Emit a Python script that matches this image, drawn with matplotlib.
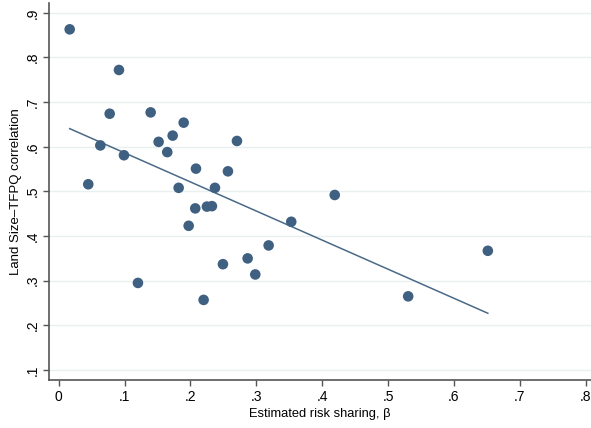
import numpy as np
import matplotlib
matplotlib.use("Agg")
import matplotlib.pyplot as plt

plt.rcParams['font.family'] = ['Liberation Sans', 'DejaVu Sans']

# Data
risk_sharing = [0.0167, 0.0915, 0.0774, 0.1396, 0.1897, 0.1517, 0.1730, 0.2706,
                0.0632, 0.0991, 0.1648, 0.0449, 0.2084, 0.2569, 0.1821, 0.2372,
                0.2073, 0.2250, 0.2326, 0.3530, 0.1973, 0.1203, 0.2200, 0.2493,
                0.2868, 0.2984, 0.3187, 0.5305, 0.6514, 0.4190]
size_tfpq_corr = [0.863, 0.772, 0.674, 0.677, 0.654, 0.611, 0.625, 0.613,
                  0.603, 0.581, 0.588, 0.516, 0.551, 0.545, 0.508, 0.508,
                  0.462, 0.466, 0.467, 0.432, 0.423, 0.295, 0.257, 0.337,
                  0.350, 0.314, 0.379, 0.265, 0.367, 0.492]
x_ticks = [0, .1, .2, .3, .4, .5, .6, .7, .8]
x_labels = ['0', '.1', '.2', '.3', '.4', '.5', '.6', '.7', '.8']
y_ticks = [.1, .2, .3, .4, .5, .6, .7, .8, .9]
y_labels = ['.1', '.2', '.3', '.4', '.5', '.6', '.7', '.8', '.9']

x = np.array(risk_sharing)
y = np.array(size_tfpq_corr)
slope, intercept = np.polyfit(x, y, 1)
xs = np.array([x.min(), x.max()])

fig = plt.figure(figsize=(5.91, 4.28), dpi=100)
ax = fig.add_axes([49/591, 1-380/428, 542/591, 377/428])

col = '#3f6080'
ax.plot(xs, intercept + slope * xs, color='#4a6a88', lw=1.1, zorder=2)
ax.scatter(x, y, s=58, color=col, edgecolors='none', zorder=3)

ax.set_xlim(-0.0147, 0.808)
ax.set_ylim(0.0776, 0.922)
ax.set_xticks(x_ticks)
ax.set_xticklabels(x_labels)
ax.set_yticks(y_ticks)
ax.set_yticklabels(y_labels, rotation=90, va='center')
ax.grid(axis='y', color='#e8f0f2', lw=1.0, zorder=0)
ax.set_axisbelow(True)
for s in ['top', 'right']:
    ax.spines[s].set_visible(False)
for s in ['left', 'bottom']:
    ax.spines[s].set_color('#555555')
    ax.spines[s].set_linewidth(1.2)
ax.tick_params(axis='both', colors='#555555', labelcolor='black', labelsize=10,
               length=4, width=1.0, pad=3)
ax.set_xlabel('Estimated risk sharing, β', fontsize=9.3, labelpad=3)
ax.set_ylabel('Land Size–TFPQ correlation', fontsize=9.5, labelpad=2)

fig.savefig('out.png', dpi=100)
